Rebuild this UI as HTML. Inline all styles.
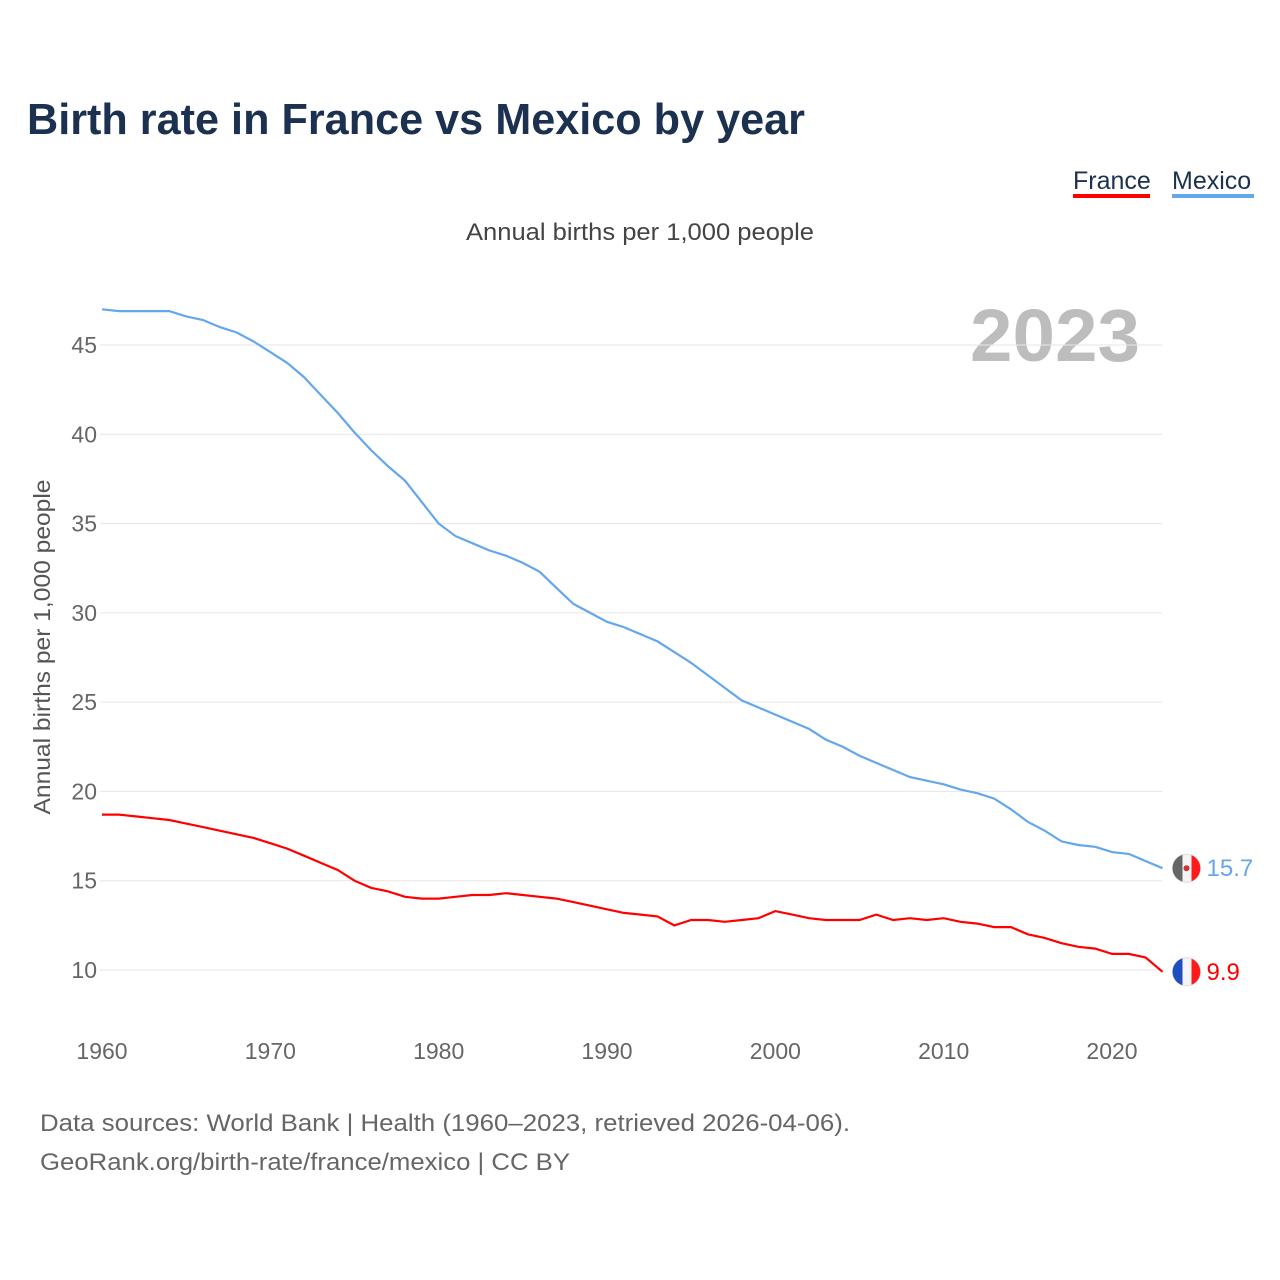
<!DOCTYPE html>
<html><head><meta charset="utf-8">
<style>
body{margin:0;background:#fff;font-family:"Liberation Sans",sans-serif;}
#wrap{position:relative;width:1280px;height:1280px;overflow:hidden;}
</style></head>
<body>
<div id="wrap">
<svg id="chart" width="1280" height="1280" style="position:absolute;left:0;top:0">
<text x="27" y="134" font-size="44" font-weight="bold" fill="#1c3150" textLength="778" lengthAdjust="spacingAndGlyphs">Birth rate in France vs Mexico by year</text>
<g><text x="1073" y="189" font-size="25" fill="#1c3150">France</text><rect x="1073" y="194" width="77" height="4" fill="#ff0000"/></g>
<g><text x="1172" y="189" font-size="25" fill="#1c3150">Mexico</text><rect x="1172" y="194" width="82" height="4" fill="#64a7ec"/></g>
<text x="640" y="240" font-size="24" fill="#444" text-anchor="middle" textLength="348" lengthAdjust="spacingAndGlyphs">Annual births per 1,000 people</text>
<text x="1140" y="361" font-size="74" font-weight="bold" fill="#bdbdbd" text-anchor="end" textLength="170" lengthAdjust="spacingAndGlyphs">2023</text>
<text transform="translate(50,647) rotate(-90)" font-size="23" fill="#555" text-anchor="middle" textLength="335" lengthAdjust="spacingAndGlyphs">Annual births per 1,000 people</text>
<g id="grid"></g><g id="yticks"></g><g id="xticks"></g><g id="lines"></g>
<text x="40" y="1131" font-size="24" fill="#666" textLength="810" lengthAdjust="spacingAndGlyphs">Data sources: World Bank | Health (1960–2023, retrieved 2026-04-06).</text>
<text x="40" y="1170" font-size="24" fill="#666" textLength="530" lengthAdjust="spacingAndGlyphs">GeoRank.org/birth-rate/france/mexico | CC BY</text>
</svg>
</div>
<script>
const years=[];for(let y=1960;y<=2023;y++)years.push(y);
const mexico=[47.0,46.9,46.9,46.9,46.9,46.6,46.4,46.0,45.7,45.2,44.6,44.0,43.2,42.2,41.2,40.1,39.1,38.2,37.4,36.2,35.0,34.3,33.9,33.5,33.2,32.8,32.3,31.4,30.5,30.0,29.5,29.2,28.8,28.4,27.8,27.2,26.5,25.8,25.1,24.7,24.3,23.9,23.5,22.9,22.5,22.0,21.6,21.2,20.8,20.6,20.4,20.1,19.9,19.6,19.0,18.3,17.8,17.2,17.0,16.9,16.6,16.5,16.1,15.7];
const france=[18.7,18.7,18.6,18.5,18.4,18.2,18.0,17.8,17.6,17.4,17.1,16.8,16.4,16.0,15.6,15.0,14.6,14.4,14.1,14.0,14.0,14.1,14.2,14.2,14.3,14.2,14.1,14.0,13.8,13.6,13.4,13.2,13.1,13.0,12.5,12.8,12.8,12.7,12.8,12.9,13.3,13.1,12.9,12.8,12.8,12.8,13.1,12.8,12.9,12.8,12.9,12.7,12.6,12.4,12.4,12.0,11.8,11.5,11.3,11.2,10.9,10.9,10.7,9.9];
const yTicks=[10,15,20,25,30,35,40,45];
const xTicks=[1960,1970,1980,1990,2000,2010,2020];
const NS="http://www.w3.org/2000/svg";
const X=v=>102+(v-1960)*1010/60;
const Y=v=>970-(v-10)*625/35;
function mk(tag,attrs,parent){const e=document.createElementNS(NS,tag);for(const k in attrs)e.setAttribute(k,attrs[k]);parent.appendChild(e);return e;}
const grid=document.getElementById('grid'),yt=document.getElementById('yticks'),xt=document.getElementById('xticks'),ln=document.getElementById('lines');
yTicks.forEach(t=>{
 const l=mk('line',{x1:100,x2:1162,y1:Y(t),y2:Y(t),stroke:'#e6e6e6','stroke-width':1},grid);
 
 
 const tx=mk('text',{x:97,y:Y(t)+8,'font-size':23,fill:'#666','text-anchor':'end'},yt);tx.textContent=t;
 
 
});
xTicks.forEach(t=>{
 const tx=mk('text',{x:X(t),y:1059,'font-size':23,fill:'#666','text-anchor':'middle'},xt);tx.textContent=t;
 
 
});
function series(vals,color,name){
 const d=vals.map((v,i)=>(i?'L':'M')+X(years[i]).toFixed(1)+','+Y(v).toFixed(1)).join('');
 const p=mk('path',{d:d,fill:'none',stroke:color,'stroke-width':2.2},ln);
 
 
 const last=vals[vals.length-1],cx=X(years[years.length-1])+24,cy=Y(last);
 const g=mk('g',{},ln);
 
 
 mk('circle',{cx:cx,cy:cy,r:14,fill:'#f4f4f4',stroke:'#ddd','stroke-width':1},g);
 if(name==='france'){mk('path',{d:`M${cx-4},${cy-13.4}A14,14 0 0,0 ${cx-4},${cy+13.4}Z`,fill:'#1f4fbf'},g);}
 else{mk('path',{d:`M${cx-4},${cy-13.4}A14,14 0 0,0 ${cx-4},${cy+13.4}Z`,fill:'#666'},g);mk('circle',{cx:cx,cy:cy,r:3,fill:'#c33'},g);}
 mk('path',{d:`M${cx+5},${cy-13}A14,14 0 0,1 ${cx+5},${cy+13}Z`,fill:'#ff1a1a'},g);
 const t=mk('text',{x:cx+20,y:cy+8,'font-size':24,fill:color},ln);t.textContent=last.toFixed(1);
 
 
}
series(mexico,'#64a7ec','mexico');
series(france,'#ff0000','france');
</script>
</body></html>
